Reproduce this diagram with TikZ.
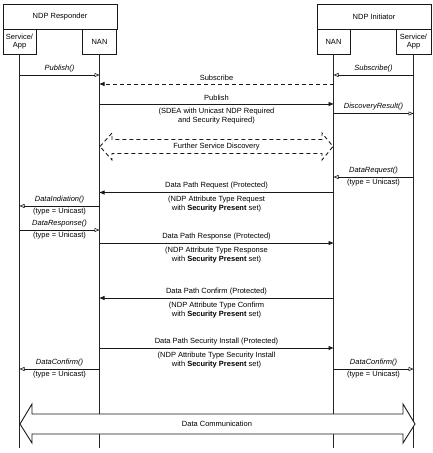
\documentclass[tikz,border=0pt]{standalone}
\usepackage{fontspec}
\setmainfont{Liberation Sans}
\usetikzlibrary{arrows.meta}
\begin{document}
\begin{tikzpicture}[x=1pt,y=-1pt,
  ln/.style={line width=0.9pt, draw=black!90},
  box/.style={ln, draw, inner sep=0pt, align=center, font=\fontsize{7.5}{8.5}\selectfont},
  lbl/.style={font=\fontsize{7.5}{9}\selectfont, inner sep=1pt, align=center},
  up/.style={lbl, above=1.5pt},
  dn/.style={lbl, below=2.5pt},
  dn1/.style={lbl, below=1pt},
  sync/.style={ln, -{Triangle[length=5pt,width=4pt]}},
  app/.style={ln, -{Triangle[open,length=5pt,width=4pt,line width=0.6pt]}},
  dsh/.style={ln, dash pattern=on 4pt off 3pt},
  life/.style={line width=0.9pt, draw=black!85}
]
\useasboundingbox (0,0) rectangle (433,453);
% header boxes
\node[box, minimum width=114pt, minimum height=25pt] (resp) at (60,16.5) {NDP Responder};
\node[box, minimum width=33pt, minimum height=25pt] (svcL) at (19.5,41.5) {Service/\\App};
\node[box, minimum width=34pt, minimum height=25pt] (nanL) at (99.5,41.5) {NAN};
\node[box, minimum width=114pt, minimum height=25pt] (init) at (374,16.5) {NDP Initiator};
\node[box, minimum width=33pt, minimum height=25pt] (nanR) at (333.5,41.5) {NAN};
\node[box, minimum width=35pt, minimum height=25pt] (svcR) at (413.5,41.5) {Service/\\App};
% row levels
\coordinate (yb) at (0,448);
\coordinate (y1) at (0,75);
\coordinate (y2) at (0,84);
\coordinate (y3) at (0,104);
\coordinate (y4) at (0,113.5);
\coordinate (y5) at (0,177);
\coordinate (y6) at (0,192.5);
\coordinate (y7) at (0,206);
\coordinate (y8) at (0,230);
\coordinate (y9) at (0,243);
\coordinate (y10) at (0,298);
\coordinate (y11) at (0,348);
\coordinate (y12) at (0,369);
% lifelines
\draw[life] (svcL.south) -- (svcL |- yb);
\draw[life] (nanL.south) -- (nanL |- yb);
\draw[life] (nanR.south) -- (nanR |- yb);
\draw[life] (svcR.south) -- (svcR |- yb);
% messages
\draw[app] (svcL |- y1) -- node[up]{\itshape Publish()} (nanL |- y1);
\draw[app] (svcR |- y1) -- node[up]{\itshape Subscribe()} (nanR |- y1);
\draw[dsh, -{Triangle[length=5pt,width=4pt]}] (nanR |- y2) -- node[up]{Subscribe} (nanL |- y2);
\draw[sync] (nanL |- y3) -- node[up]{Publish}
  node[dn]{(SDEA with Unicast NDP Required\\and Security Required)} (nanR |- y3);
\draw[app] (nanR |- y4) -- node[up]{\itshape DiscoveryResult()} (svcR |- y4);
% further service discovery
\draw[dsh, fill=white] (100,146.5) -- (112,133) -- (112,139.5) -- (322,139.5) -- (322,133)
  -- (333,146.5) -- (322,160) -- (322,153.5) -- (112,153.5) -- (112,160) -- cycle;
\node[lbl] (fsd) at (216.5,146.5) {Further Service Discovery};
\draw[app] (svcR |- y5) -- node[up]{\itshape DataRequest()} node[dn1]{(type = Unicast)} (nanR |- y5);
\draw[sync] (nanR |- y6) -- node[up]{Data Path Request (Protected)}
  node[dn]{(NDP Attribute Type Request\\with \textbf{Security Present} set)} (nanL |- y6);
\draw[app] (nanL |- y7) -- node[up]{\itshape DataIndiation()} node[dn1]{(type = Unicast)} (svcL |- y7);
\draw[app] (svcL |- y8) -- node[up]{\itshape DataResponse()} node[dn1]{(type = Unicast)} (nanL |- y8);
\draw[sync] (nanL |- y9) -- node[up]{Data Path Response (Protected)}
  node[dn]{(NDP Attribute Type Response\\with \textbf{Security Present} set)} (nanR |- y9);
\draw[sync] (nanR |- y10) -- node[up]{Data Path Confirm (Protected)}
  node[dn]{(NDP Attribute Type Confirm\\with \textbf{Security Present} set)} (nanL |- y10);
\draw[sync] (nanL |- y11) -- node[up]{Data Path Security Install (Protected)}
  node[dn]{(NDP Attribute Type Security Install\\with \textbf{Security Present} set)} (nanR |- y11);
\draw[app] (nanL |- y12) -- node[up]{\itshape DataConfirm()} node[dn1]{(type = Unicast)} (svcL |- y12);
\draw[app] (nanR |- y12) -- node[up]{\itshape DataConfirm()} node[dn1]{(type = Unicast)} (svcR |- y12);
% data communication
\draw[ln, fill=white] (20,424) -- (32,404) -- (32,414) -- (403,414) -- (403,404) -- (415,424)
  -- (403,443) -- (403,434) -- (32,434) -- (32,443) -- cycle;
\node[lbl] (dc) at (217,424) {Data Communication};
\end{tikzpicture}
\end{document}
